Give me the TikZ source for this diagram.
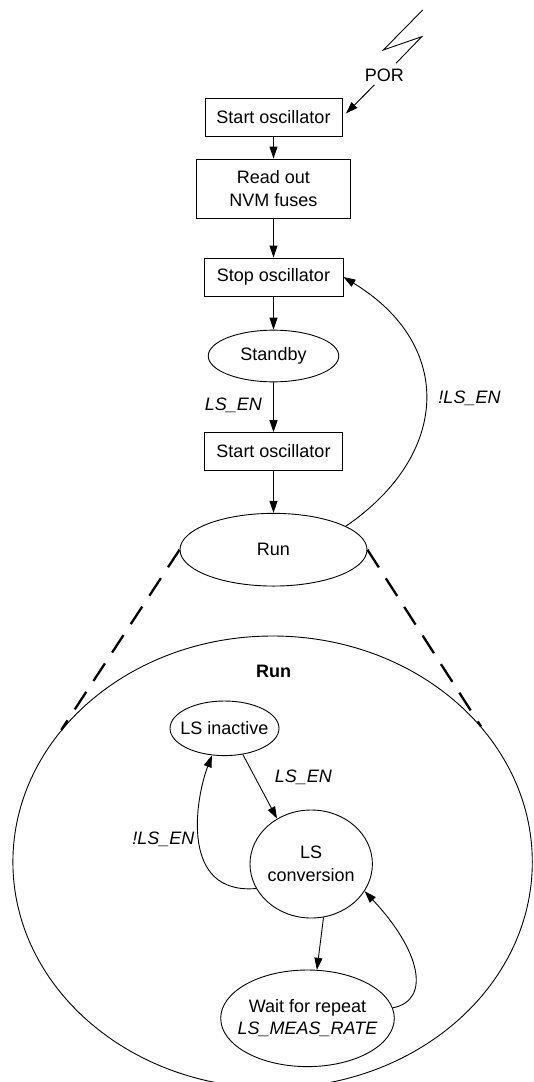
\documentclass[tikz,border=0pt]{standalone}
\usepackage{fontspec}
\setmainfont{Liberation Sans}
\usetikzlibrary{shapes.geometric,arrows.meta}
\begin{document}
\begin{tikzpicture}[x=1pt,y=-1pt,
  every node/.style={font=\fontsize{18}{22.5}\selectfont},
  line/.style={line width=0.9pt},
  arr/.style={line width=0.9pt,-{Triangle[length=12pt,width=8pt]}},
  box/.style={draw,line width=0.9pt,rectangle,inner sep=0pt,align=center},
  st/.style={draw,line width=0.9pt,ellipse,inner xsep=-14pt,inner ysep=0pt,align=center},
  lab/.style={font=\fontsize{18}{22.5}\selectfont\itshape},
  zoomline/.style={line width=2.3pt,dash pattern=on 21pt off 13pt}]
\useasboundingbox (0,0) rectangle (534,1082);
\clip (0,0) rectangle (534,1082);

% upper flow
\node[box,minimum width=137pt,minimum height=38pt] (b1) at (273.5,117) {Start oscillator};
\node[box,minimum width=154pt,minimum height=59pt] (b2) at (273.5,188.5) {Read out\\NVM fuses};
\node[box,minimum width=139pt,minimum height=38pt] (b3) at (273.5,277) {Stop oscillator};
\node[st,minimum width=130.5pt,minimum height=51.7pt] (sb) at (273.5,356) {Standby};
\node[box,minimum width=137.6pt,minimum height=37.3pt] (b4) at (273.5,451.3) {Start oscillator};
\node[st,minimum width=187pt,minimum height=72.7pt] (run) at (273.5,549.7) {Run};

% power-on reset
\node (por) at (384.3,75) {POR};
\draw[line] (422.7,10) -- (383.3,50) -- (421.7,36.7) -- (396,63.3);

% expanded run state
\node[draw,ellipse,line width=0.9pt,minimum width=519.4pt,minimum height=452pt,inner sep=0pt] (big) at (272.6,862) {};
\node[font=\fontsize{18}{22.5}\selectfont\bfseries] (runt) at (273.6,671.7) {Run};
\node[st,minimum width=109pt,minimum height=54.6pt] (ina) at (224.5,728.3) {LS inactive};
\node[st,minimum width=122.4pt,minimum height=108pt] (conv) at (311.2,864) {LS\\conversion};
\node[st,minimum width=173.6pt,minimum height=96.6pt] (wait) at (307.5,1018.3) {Wait for repeat\\\textit{LS\_MEAS\_RATE}};

% labels
\node[lab] (l1) at (233.4,405) {LS\_EN};
\node[lab] (l2) at (469.5,398.3) {!LS\_EN};
\node[lab] (l3) at (303.3,777.3) {LS\_EN};
\node[lab] (l4) at (163.3,839.3) {!LS\_EN};

% connectors
\draw[arr,shorten >=5pt] (por) -- (b1.east);
\draw[arr] (b1) -- (b2);
\draw[arr] (b2) -- (b3);
\draw[arr] (b3) -- (sb);
\draw[arr] (sb) -- (b4);
\draw[arr] (b4) -- (run);
\draw[arr] (run.18) .. controls (450,455) and (455,345) .. (b3.east);

\draw[zoomline] (run.west) -- (big.148.8);
\draw[zoomline] (run.east) -- (big.33.7);

\draw[arr] (ina.-55) -- (conv.127);
\draw[arr] (conv.204.9) .. controls (180,895) and (195,800) .. (ina.245.7);
\draw[arr] (conv.-77) -- (wait.79);
\draw[arr] (wait.7.3) .. controls (432,1000) and (420,950) .. (conv.-27.8);
\end{tikzpicture}
\end{document}
